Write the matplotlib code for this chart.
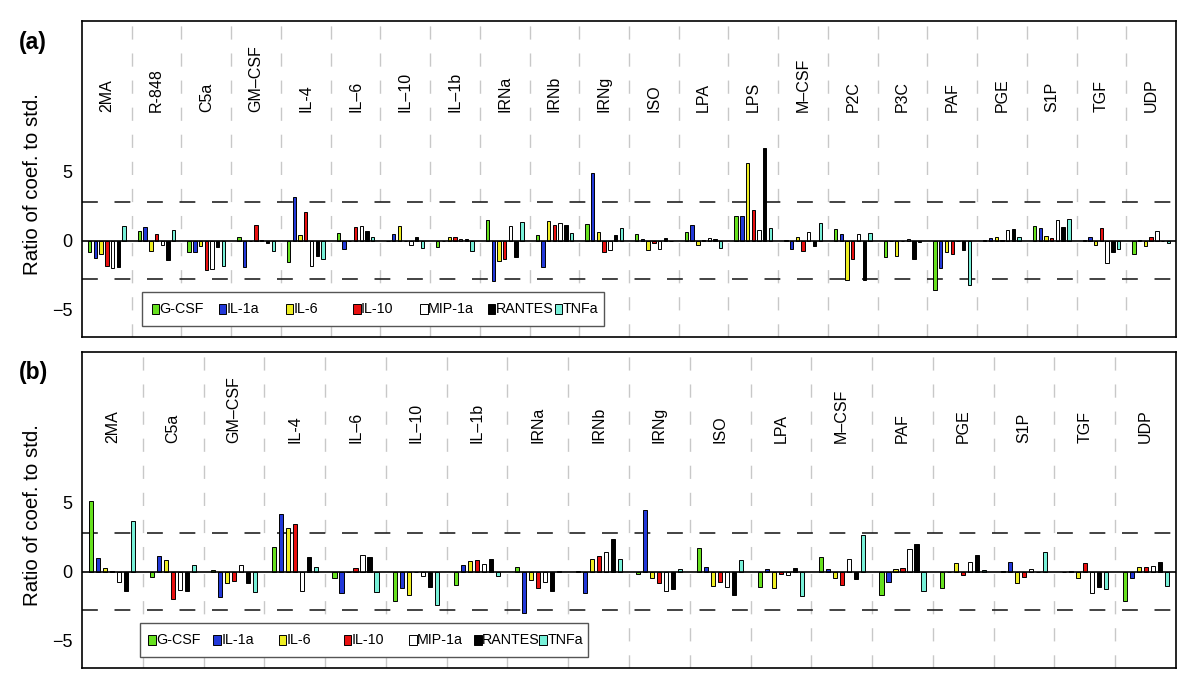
import numpy as np
import matplotlib
matplotlib.use("Agg")
import matplotlib.pyplot as plt
from matplotlib.patches import Rectangle

plt.rcParams['font.family'] = ['Liberation Sans', 'DejaVu Sans']

# cytokines (series) and colours
cytokines = ['G-CSF', 'IL-1a', 'IL-6', 'IL-10', 'MIP-1a', 'RANTES', 'TNFa']
colors = ['#66e01e', '#2238d8', '#eeee22', '#e81010', 'white', 'black', '#77f0d8']

# panel (a)
groups_a = ['2MA', 'R-848', 'C5a', 'GM–CSF', 'IL-4', 'IL–6', 'IL–10', 'IL–1b', 'IRNa', 'IRNb', 'IRNg',
            'ISO', 'LPA', 'LPS', 'M–CSF', 'P2C', 'P3C', 'PAF', 'PGE', 'S1P', 'TGF', 'UDP']
gcsf_a = [-0.8, 0.7, -0.85, 0.24, -1.57, 0.53, -0.05, -0.48, 1.5, 0.39, 1.18,
          0.48, 0.6, 1.79, 0.05, 0.82, -1.2, -3.6, 0.05, 1.04, 0.03, -0.99]
il1a_a = [-1.23, 0.97, -0.82, -1.93, 3.19, -0.6, 0.48, 0.0, -2.92, -1.9, 4.9,
          0.1, 1.11, 1.79, -0.58, 0.51, 0.0, -1.98, 0.17, 0.94, 0.29, 0.05]
il6_a = [-1.0, -0.72, -0.41, 0.0, 0.39, 0.0, 1.06, 0.29, -1.5, 1.4, 0.63,
         -0.68, -0.31, 5.6, 0.27, -2.83, -1.1, -0.85, 0.27, 0.31, -0.29, -0.36]
il10_a = [-1.86, 0.46, -2.1, 1.13, 2.05, 0.99, 0.0, 0.24, -1.33, 1.13, -0.85,
          -0.19, 0.05, 2.25, -0.72, -1.35, -0.05, -0.97, 0.05, 0.22, 0.89, 0.24]
mip1a_a = [-2.0, -0.34, -2.03, 0.05, -1.8, 1.06, -0.29, 0.12, 1.06, 1.3, -0.7,
           -0.6, 0.19, 0.77, 0.6, 0.48, 0.1, -0.05, 0.77, 1.52, -1.62, 0.72]
rantes_a = [-1.9, -1.4, -0.46, -0.17, -1.09, 0.72, 0.29, 0.14, -1.16, 1.13, 0.39,
            0.22, 0.14, 6.7, -0.36, -2.83, -1.35, -0.65, 0.82, 0.99, -0.82, 0.0]
tnfa_a = [1.04, 0.8, -1.8, -0.72, -1.33, 0.27, -0.56, -0.75, 1.35, 0.56, 0.89,
          0.0, -0.5, 0.94, 1.3, 0.56, -0.12, -3.19, 0.27, 1.59, -0.63, -0.17]

# panel (b)
groups_b = ['2MA', 'C5a', 'GM–CSF', 'IL-4', 'IL–6', 'IL–10', 'IL–1b', 'IRNa', 'IRNb', 'IRNg',
            'ISO', 'LPA', 'M–CSF', 'PAF', 'PGE', 'S1P', 'TGF', 'UDP']
gcsf_b = [5.1, -0.36, 0.1, 1.79, -0.43, -2.1, -0.94, 0.34, 0.03, -0.19,
          1.71, -1.11, 1.04, -1.71, -1.21, 0.03, 0.0, -2.1]
il1a_b = [1.01, 1.14, -1.81, 4.15, -1.52, -1.21, 0.46, -3.02, -1.52, 4.5,
          0.34, 0.22, 0.22, -0.75, -0.05, 0.7, 0.03, -0.48]
il6_b = [0.27, 0.87, -0.85, 3.14, 0.0, -1.67, 0.75, -0.58, 0.92, -0.43,
         -1.01, -1.16, -0.46, 0.17, 0.6, -0.85, -0.43, 0.36]
il10_b = [0.02, -1.98, -0.65, 3.48, 0.27, 0.0, 0.87, -1.18, 1.11, -0.82,
          -0.75, -0.17, -0.94, 0.24, -0.27, -0.36, 0.65, 0.34]
mip1a_b = [-0.72, -1.3, 0.51, -1.38, 1.23, -0.34, 0.53, -0.77, 1.43, -1.4,
           -1.09, -0.27, 0.92, 1.62, 0.72, 0.22, -1.52, 0.41]
rantes_b = [-1.38, -1.43, -0.85, 1.09, 1.04, -1.11, 0.92, -1.43, 2.34, -1.26,
            -1.71, 0.24, -0.53, 2.03, 1.21, 0.0, -1.09, 0.72]
tnfa_b = [3.7, 0.48, -1.45, 0.31, -1.47, -2.42, -0.31, 0.03, 0.94, 0.22,
          0.85, -1.74, 2.68, -1.38, 0.1, 1.43, -1.28, -1.04]

threshold = 2.78
W, H = 1200, 686


def fig_xy(px, py):
    # pixel position (from top-left) -> figure fraction
    return px / W, 1 - py / H


def draw_panel(ax, groups, series, tag, tag_y, leg_top, leg_left, leg_right, leg_x0, leg_step):
    n = len(groups)
    for k, (vals, col) in enumerate(zip(series, colors)):
        x = np.arange(n) + 0.155 + 0.115 * k
        ax.bar(x, vals, width=0.067, color=col, edgecolor='black', linewidth=0.7, zorder=3)

    ax.set_xlim(0, n)
    ax.set_ylim(-7.0, 15.94)
    for b in range(1, n):
        ax.axvline(b, color='#c8c8c8', lw=1, ls=(0, (9.5, 10)), zorder=1)
    ax.axhline(0, color='black', lw=1.2, zorder=4)
    for t in (threshold, -threshold):
        ax.axhline(t, color='#222222', lw=1.2, ls=(0, (9.5, 10)), zorder=2)

    for i, g in enumerate(groups):
        ax.text(i + 0.5, 9.3, g, rotation=90, ha='center', va='bottom', fontsize=11.5)

    ax.set_xticks([])
    ax.set_yticks([-5, 0, 5])
    ax.tick_params(axis='y', length=0, pad=7, labelsize=13)
    ax.set_ylabel('Ratio of coef. to std.', fontsize=14.8, labelpad=7)
    ax.yaxis.set_label_coords(-0.037, 0.485)
    for s in ax.spines.values():
        s.set_linewidth(1.2)

    fx, fy = fig_xy(33, tag_y)
    fig.text(fx, fy, tag, fontsize=16.5, fontweight='bold', ha='center', va='center')

    # legend box drawn the same way as the original (evenly spaced entries)
    x0, y0 = fig_xy(leg_left, leg_top + 34.6)
    x1, y1 = fig_xy(leg_right, leg_top)
    fig.add_artist(Rectangle((x0, y0), x1 - x0, y1 - y0, transform=fig.transFigure,
                             facecolor='white', edgecolor='#555555', lw=1.0, zorder=5))
    cy = leg_top + 17.3
    for k, (name, col) in enumerate(zip(cytokines, colors)):
        sx = leg_x0 + leg_step * k
        bx, by = fig_xy(sx - 3.5, cy + 5)
        fig.add_artist(Rectangle((bx, by), 7.5 / W, 10 / H, transform=fig.transFigure,
                                 facecolor=col, edgecolor='black', lw=0.7, zorder=6))
        tx, ty = fig_xy(sx + 4.5, cy)
        fig.text(tx, ty, name, fontsize=10.3, ha='left', va='center', zorder=6)


fig = plt.figure(figsize=(12, 6.86), dpi=100)
ax_a = fig.add_axes([82 / W, 1 - 337.3 / H, 1094 / W, (337.3 - 20.7) / H])
ax_b = fig.add_axes([82 / W, 1 - 668.3 / H, 1094 / W, (668.3 - 351.7) / H])

draw_panel(ax_a, groups_a, [gcsf_a, il1a_a, il6_a, il10_a, mip1a_a, rantes_a, tnfa_a],
           '(a)', 42, 291.7, 141.7, 604.3, 155, 67.2)
draw_panel(ax_b, groups_b, [gcsf_b, il1a_b, il6_b, il10_b, mip1a_b, rantes_b, tnfa_b],
           '(b)', 372, 622.7, 140, 587.7, 151.7, 65.2)

fig.savefig('out.png', dpi=100)
